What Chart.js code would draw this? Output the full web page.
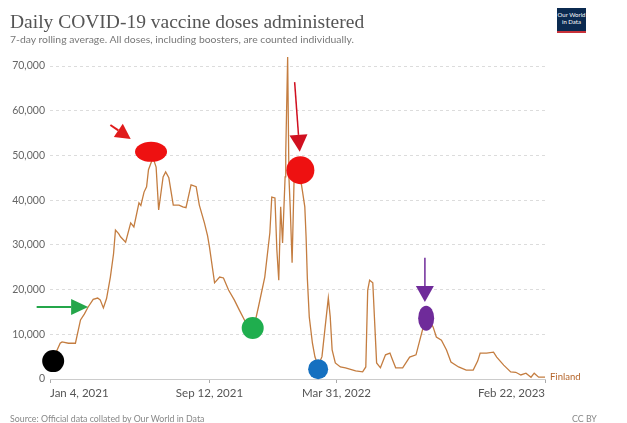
<!DOCTYPE html>
<html>
<head>
<meta charset="utf-8">
<script src="https://cdn.jsdelivr.net/npm/chart.js@4"></script>
<style>
  body { margin: 0; background: #fff; }
  #wrap { position: relative; width: 627px; height: 423px; overflow: hidden; }
  #myChart { position: absolute; left: 0; top: 0; }
  .txt { position: absolute; white-space: nowrap; line-height: 1; }
  #title { left: 10px; top: 11px; font: 19.5px "Liberation Serif", serif; color: #555; }
  #subtitle { left: 10px; top: 33px; font: 10.4px Lato, sans-serif; color: #777; }
  #logo { left: 557px; top: 8px; width: 29px; height: 20px; background: #0b2a50; border-bottom: 2px solid #c8313a;
          color: #fff; font: 6px Lato, sans-serif; line-height: 7px; text-align: center; padding-top: 3px; box-sizing: content-box; white-space: normal; }
  #source { left: 10px; top: 413px; font: 8.8px Lato, sans-serif; color: #888; }
  #lic { left: 572px; top: 413px; font: 8.8px Lato, sans-serif; color: #888; }
</style>
</head>
<body>
<div id="wrap">
  <canvas id="myChart" width="627" height="423"></canvas>
  <div class="txt" id="title">Daily COVID-19 vaccine doses administered</div>
  <div class="txt" id="subtitle">7-day rolling average. All doses, including boosters, are counted individually.</div>
  <div class="txt" id="logo">Our World<br>in Data</div>
  <div class="txt" id="source">Source: Official data collated by Our World in Data</div>
  <div class="txt" id="lic">CC BY</div>
</div>
<script>
// days since Jan 4, 2021 and 7-day average doses
var days = [0, 8, 16, 19, 29, 40, 48, 54, 60, 68, 75, 79, 84, 89, 95, 100, 103, 108, 111, 119,
  127, 132, 140, 143, 148, 152, 155, 162, 167, 171, 178, 182, 187, 194, 203, 209, 214, 219, 222, 230,
  235, 243, 248, 251, 259, 267, 273, 281, 290, 298, 306, 314, 320, 328, 338, 346, 349, 354, 357, 360,
  363, 366, 370, 371, 374, 376, 378, 381, 384, 389, 393, 397, 401, 403, 405, 408, 413, 417, 422, 428,
  433, 438, 441, 444, 449, 457, 465, 481, 492, 497, 500, 503, 508, 511, 514, 520, 528, 535, 539, 544,
  555, 566, 576, 582, 587, 592, 598, 603, 608, 616, 624, 631, 643, 655, 666, 673, 677, 687, 698, 703,
  714, 725, 733, 741, 749, 757, 762, 769, 779];
var doses = [3000, 5500, 8000, 8300, 8000, 8000, 13200, 14500, 16100, 17800, 18100, 17700, 15900, 18000, 22800, 28000, 33300, 32500, 31800, 30600,
  34900, 34000, 39400, 38800, 41800, 43000, 46800, 49500, 47400, 37800, 45200, 46300, 45000, 38900, 38900, 38500, 38300, 41500, 43400, 43000,
  38900, 34900, 32000, 29500, 21500, 22800, 22600, 19900, 17700, 15400, 13200, 10500, 11000, 16100, 22800, 32700, 40700, 40500, 28900, 22100,
  38500, 30400, 45200, 50600, 72000, 45200, 38500, 26000, 43900, 47000, 46000, 42300, 38500, 31800, 22500, 13900, 8000, 4900, 3000, 5000,
  11600, 18100, 13900, 6500, 3600, 2700, 2500, 1800, 1600, 2700, 19900, 22100, 21500, 12500, 3600, 2500, 5400, 5800, 4300, 2500,
  2500, 4900, 5400, 8700, 11400, 14000, 13000, 11600, 9400, 8700, 6500, 3800, 2700, 2000, 2000, 4000, 5800, 5800, 6000, 4900,
  3100, 1600, 1500, 900, 1300, 400, 1300, 400, 400];

var tickDays = [0, 251, 451, 779];
var tickLabels = ["Jan 4, 2021", "Sep 12, 2021", "Mar 31, 2022", "Feb 22, 2023"];

// hand-drawn markup on the picture (data space)
var markerDay = [5, 159, 319, 394, 422, 592];
var markerDose = [4000, 50800, 11400, 46700, 2200, 13600];
var arrowFromDay = [-21, 95, 385, 590];
var arrowFromDose = [16100, 56800, 66400, 27100];
var arrowToDay = [60, 127, 393, 590];
var arrowToDose = [16100, 53700, 50800, 17200];

var markerStyle = [
  { color: "#000000", rx: 11, ry: 11 },
  { color: "#ee1111", rx: 16, ry: 10 },
  { color: "#1fae4e", rx: 11, ry: 11 },
  { color: "#ee1111", rx: 14, ry: 14 },
  { color: "#1570c0", rx: 10, ry: 10 },
  { color: "#6f2b9a", rx: 8, ry: 12.5 }
];
var arrowStyle = [
  { color: "#24a64a", head: 17, half: 8, width: 2 },
  { color: "#e01b1b", head: 15, half: 8, width: 2 },
  { color: "#d01020", head: 17, half: 9, width: 1.5 },
  { color: "#6f2b9a", head: 16, half: 9, width: 1.5 }
];

var lineColor = "#c47d40";

var points = days.map(function (d, i) { return { x: d, y: doses[i] }; });

var markup = {
  id: "markup",
  afterDatasetsDraw: function (chart) {
    var c = chart.ctx, sx = chart.scales.x, sy = chart.scales.y;
    c.save();
    // Finland label at end of line
    var last = points[points.length - 1];
    c.fillStyle = "#b5652a";
    c.font = "9.5px Lato, sans-serif";
    c.textBaseline = "middle";
    c.fillText("Finland", sx.getPixelForValue(last.x) + 5, sy.getPixelForValue(last.y));

    markerDay.forEach(function (d, i) {
      var st = markerStyle[i];
      c.beginPath();
      c.ellipse(sx.getPixelForValue(d), sy.getPixelForValue(markerDose[i]), st.rx, st.ry, 0, 0, Math.PI * 2);
      c.fillStyle = st.color;
      c.fill();
    });

    arrowFromDay.forEach(function (d, i) {
      var st = arrowStyle[i];
      var x0 = sx.getPixelForValue(d), y0 = sy.getPixelForValue(arrowFromDose[i]);
      var x1 = sx.getPixelForValue(arrowToDay[i]), y1 = sy.getPixelForValue(arrowToDose[i]);
      var ang = Math.atan2(y1 - y0, x1 - x0);
      var bx = x1 - Math.cos(ang) * st.head, by = y1 - Math.sin(ang) * st.head;
      c.strokeStyle = st.color;
      c.lineWidth = st.width;
      c.beginPath();
      c.moveTo(x0, y0);
      c.lineTo(bx, by);
      c.stroke();
      c.beginPath();
      c.moveTo(x1, y1);
      c.lineTo(bx + Math.sin(ang) * st.half, by - Math.cos(ang) * st.half);
      c.lineTo(bx - Math.sin(ang) * st.half, by + Math.cos(ang) * st.half);
      c.closePath();
      c.fillStyle = st.color;
      c.fill();
    });
    c.restore();
  }
};

var ctx = document.getElementById("myChart").getContext("2d");
var myChart = new Chart(ctx, {
  type: "line",
  data: {
    datasets: [
      {
        label: "Finland",
        data: points,
        borderColor: lineColor,
        borderWidth: 1.3,
        pointRadius: 0,
        tension: 0,
        fill: false,
        clip: false,
      },
    ],
  },
  options: {
    responsive: false,
    animation: false,
    layout: { padding: { left: 0, right: 82, top: 66, bottom: 0 } },
    plugins: { legend: { display: false }, tooltip: { enabled: false } },
    scales: {
      x: {
        type: "linear",
        min: 0,
        max: 779,
        afterBuildTicks: function (scale) {
          scale.ticks = tickDays.map(function (v) { return { value: v }; });
        },
        afterFit: function (scale) { scale.height = 44; },
        grid: { drawOnChartArea: false, drawTicks: true, tickLength: 4, color: "#aaa" },
        border: { display: true, color: "#ccc" },
        ticks: {
          autoSkip: false,
          maxRotation: 0,
          align: "inner",
          padding: 3,
          color: "#555",
          font: { family: "Lato", size: 11.5 },
          callback: function (v) { return tickLabels[tickDays.indexOf(v)]; },
        },
      },
      y: {
        min: 0,
        max: 70000,
        afterFit: function (scale) { scale.width = 50; },
        grid: { drawTicks: false, color: "#dcdcdc" },
        border: { display: false, dash: [3, 3] },
        ticks: {
          stepSize: 10000,
          padding: 5,
          color: "#666",
          font: { family: "Lato", size: 10.5 },
          callback: function (v) { return v.toLocaleString("en-US"); },
        },
      },
    },
  },
  plugins: [markup],
});
</script>
</body>
</html>
